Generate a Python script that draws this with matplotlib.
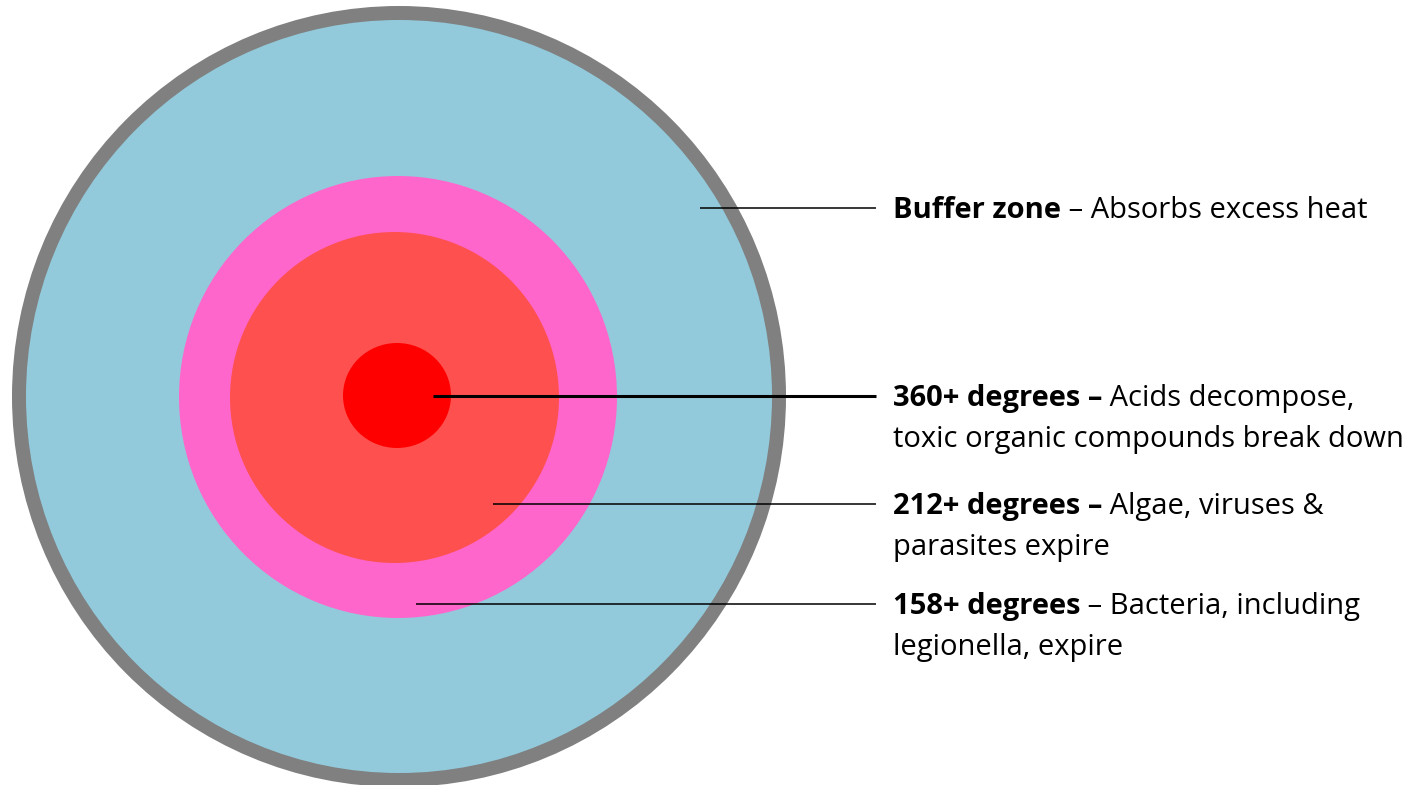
import matplotlib
matplotlib.use("Agg")
import matplotlib.pyplot as plt
from matplotlib.patches import Ellipse

# ---- data ----
zone_names = ["Buffer zone", "158+ degrees", "212+ degrees", "360+ degrees"]
zone_colors = ["#92CADB", "#FF66CC", "#FF5050", "#FF0000"]
zone_widths = [746, 438, 329, 108]
zone_heights = [753, 442, 331, 105]
zone_centers_x = [399, 398, 394.5, 397]
zone_centers_y = [396.5, 397, 397.5, 395.5]

label_bold = ["Buffer zone", "360+ degrees \u2013", "212+ degrees \u2013", "158+ degrees"]
label_rest = [" \u2013 Absorbs excess heat", " Acids decompose,", " Algae, viruses &", " \u2013 Bacteria, including"]
label_line2 = ["", "toxic organic compounds break down", "parasites expire", "legionella, expire"]
label_y = [208, 396, 504, 604]
leader_x0 = [700, 433, 493, 416]
leader_lw = [1.1, 2.2, 1.1, 1.1]

W, H = 1418, 785
fig = plt.figure(figsize=(W / 100, H / 100), dpi=100)
ax = fig.add_axes([0, 0, 1, 1])
ax.set_xlim(0, W)
ax.set_ylim(H, 0)
ax.axis("off")

# outer gray ring
ring = 14
ax.add_patch(Ellipse((zone_centers_x[0], zone_centers_y[0]),
                     zone_widths[0] + 2 * ring, zone_heights[0] + 2 * ring,
                     facecolor="#808080", edgecolor="none", zorder=1))
for i in range(len(zone_names)):
    ax.add_patch(Ellipse((zone_centers_x[i], zone_centers_y[i]), zone_widths[i], zone_heights[i],
                         facecolor=zone_colors[i], edgecolor="none", zorder=2 + i))

text_x = 893
line_end = 876
fs = 21
fam = ["Open Sans", "DejaVu Sans"]
renderer = fig.canvas.get_renderer()
for i in range(len(label_bold)):
    y = label_y[i]
    ax.plot([leader_x0[i], line_end], [y, y], color="black", lw=leader_lw[i],
            solid_capstyle="butt", zorder=10)
    tb = ax.text(text_x, y + 2.5, label_bold[i], fontsize=fs, fontweight="bold", family=fam,
                 va="center", ha="left", color="black", zorder=11)
    bb = tb.get_window_extent(renderer=renderer)
    x_next = bb.x1  # pixels; data x equals pixels
    ax.text(x_next, y + 2.5, label_rest[i], fontsize=fs, family=fam,
            va="center", ha="left", color="black", zorder=11)
    if label_line2[i]:
        ax.text(text_x, y + 44, label_line2[i], fontsize=fs, family=fam,
                va="center", ha="left", color="black", zorder=11)

fig.savefig("out.png", dpi=100, facecolor="white")
